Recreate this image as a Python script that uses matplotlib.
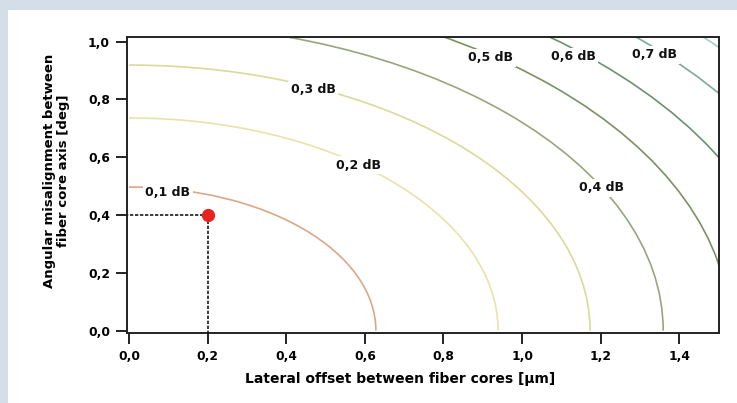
import matplotlib
matplotlib.use("Agg")
import matplotlib.pyplot as plt
from matplotlib.patches import Arc, Rectangle

# --------------------------------------------------
# Data (iso-loss curves)
# --------------------------------------------------
levels = ["0,1 dB", "0,2 dB", "0,3 dB", "0,4 dB", "0,5 dB", "0,6 dB", "0,7 dB", ""]
x_intercepts = [0.628, 0.939, 1.173, 1.359, 1.529, 1.686, 1.833, 1.957]   # µm
y_intercepts = [0.497, 0.736, 0.919, 1.064, 1.193, 1.315, 1.430, 1.527]   # deg
label_x = [0.099, 0.583, 0.468, 1.201, 0.919, 1.130, 1.338, None]
label_y = [0.479, 0.573, 0.833, 0.494, 0.944, 0.947, 0.954, None]
curve_colors = ["#dba887", "#e8e3ac", "#d9db98", "#97a67c",
                "#7b9163", "#6b9270", "#7ea89c", "#a6cccc"]

point_x = 0.2
point_y = 0.4

xticks = [0.0, 0.2, 0.4, 0.6, 0.8, 1.0, 1.2, 1.4]
yticks = [0.0, 0.2, 0.4, 0.6, 0.8, 1.0]

font = "DejaVu Sans"

# --------------------------------------------------
# Plot
# --------------------------------------------------
fig = plt.figure(figsize=(7.37, 4.03), dpi=100)
fig.patch.set_facecolor("#d3dee9")
panel = Rectangle((8 / 737, 0), 1, 1 - 10 / 403, transform=fig.transFigure,
                  facecolor="white", edgecolor="none", zorder=-5)
fig.add_artist(panel)

ax = fig.add_axes([126.7 / 737, 1 - 333.3 / 403, (719 - 126.7) / 737, (333.3 - 37.3) / 403])
ax.set_facecolor("white")
ax.set_zorder(2)

for a, b, c in zip(x_intercepts, y_intercepts, curve_colors):
    ax.add_patch(Arc((0, 0), 2 * a, 2 * b, theta1=0, theta2=90,
                     color=c, linewidth=1.2, zorder=2))

for txt, lx, ly in zip(levels, label_x, label_y):
    if not txt:
        continue
    ax.text(lx, ly, txt, ha="center", va="center", fontsize=9, fontweight="bold",
            family=font, color="#111111", zorder=4,
            bbox=dict(facecolor="white", edgecolor="none", pad=2))

# marked point with guide lines
ax.plot([-0.01, point_x], [point_y, point_y], color="#1a1a1a", linewidth=1.2,
        linestyle=(0, (2, 1)), zorder=3)
ax.plot([point_x, point_x], [-0.01, point_y], color="#1a1a1a", linewidth=1.2,
        linestyle=(0, (2, 1)), zorder=3)
ax.plot(point_x, point_y, "o", color="#e8231f", markersize=8.5, zorder=5)

ax.set_xlim(-0.006, 1.501)
ax.set_ylim(-0.009, 1.015)
ax.set_xticks(xticks)
ax.set_yticks(yticks)
ax.set_xticklabels([f"{v:.1f}".replace(".", ",") for v in xticks])
ax.set_yticklabels([f"{v:.1f}".replace(".", ",") for v in yticks])
ax.tick_params(axis="both", direction="out", length=8, width=1.4, color="#222222",
               labelsize=8.8, pad=4)
for lab in ax.get_xticklabels() + ax.get_yticklabels():
    lab.set_fontweight("bold")
    lab.set_family(font)

for s in ax.spines.values():
    s.set_linewidth(1.4)
    s.set_color("#222222")

ax.set_xlabel("Lateral offset between fiber cores [µm]", fontsize=10, fontweight="bold",
              family=font)
ax.xaxis.set_label_coords(0.461, -0.13)
ax.set_ylabel("Angular misalignment between\nfiber core axis [deg]", fontsize=9.5,
              fontweight="bold", family=font, linespacing=1.05)
ax.yaxis.set_label_coords(-0.096, 0.55)

plt.savefig("out.png", dpi=100, facecolor=fig.get_facecolor())
